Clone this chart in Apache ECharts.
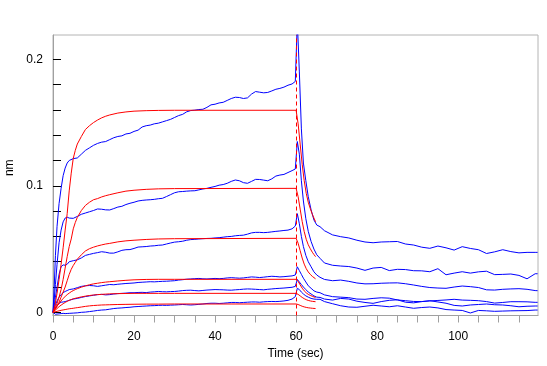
<!DOCTYPE html>
<html>
<head>
<meta charset="utf-8">
<script src="https://cdn.jsdelivr.net/npm/echarts@6/dist/echarts.min.js"></script>
<style>html,body{margin:0;padding:0;background:#fff;}#c{width:547px;height:366px;}</style>
</head>
<body>
<div id="c"></div>
<script>
// ---- time bases (sec) ----
const assocT = [0,0.3,0.6,1,1.5,2,2.5,3,3.5,4,5,6,7,8,9,10,11,12,13,14,15,16,17,18,19,20,21,22,23,24,25,26,27,28,29,30,31,32,33,34,35,36,37,38,39,40,41,42,43,44,45,46,47,48,49,50,51,52,53,54,55,56,57,58,59,59.8];
const dissT = [60.3,60.8,61.3,61.8,62.4,63,63.7,64.4,65.1,65.9,67,69,71,73,75,77,79,81,83,85,87,89,91,93,95,97,99,101,103,105,107,109,111,113,115,117,119,119.6];
const fitT = [0,0.5,1,1.5,2,2.5,3,3.5,4,4.5,5,5.5,6,7,8,9,10,11,12,13,14,16,18,20,23,26,30,60];
const fitDT = [60.5,61,61.5,62,62.5,63,63.5,64,64.4,64.8];

// ---- measured sensorgrams (nm) ----
const b1Assoc = [0,0.02,0.045,0.068,0.086,0.098,0.108,0.114,0.118,0.120,
  0.1215,0.122,0.125,0.128,0.130, 0.132,0.1335,0.1345,0.135,0.1365, 0.138,0.139,0.1395,0.141,0.1415,
  0.143,0.144,0.1465,0.1475,0.148, 0.149,0.1495,0.1505,0.1515,0.1525, 0.154,0.1555,0.1565,0.1585,0.1595,
  0.1598,0.1603,0.1605,0.162,0.164, 0.1645,0.1655,0.166,0.1675,0.169, 0.170,0.1698,0.169,0.1695,0.1725,
  0.1745,0.174,0.1735,0.1738,0.175, 0.1763,0.177,0.178,0.1795,0.1805, 0.1825];
const b2Assoc = [0,0.01,0.022,0.038,0.055,0.065,0.0715,0.0745,0.0752,0.0745,
  0.0743,0.0758,0.0775,0.0785,0.0795, 0.0805,0.0817,0.0815,0.081,0.0809, 0.082,0.0832,0.0838,0.0852,0.0862,
  0.087,0.088,0.0885,0.0888,0.089, 0.0893,0.0898,0.0901,0.0915,0.093, 0.0945,0.0953,0.0955,0.0958,0.096,
  0.0961,0.0968,0.0975,0.098,0.0988, 0.0995,0.1005,0.101,0.102,0.1035, 0.1046,0.104,0.1025,0.102,0.1035,
  0.1051,0.105,0.1045,0.104,0.1055, 0.1077,0.1085,0.109,0.1105,0.112, 0.1133];
const b3Assoc = [0,0.005,0.012,0.02,0.03,0.036,0.0375,0.0372,0.038,0.04,
  0.0408,0.0415,0.043,0.045,0.0458, 0.0466,0.0472,0.0479,0.0475,0.0468, 0.0468,0.0478,0.049,0.0495,0.0496,
  0.0505,0.0516,0.0518,0.052,0.0524, 0.0526,0.053,0.0532,0.054,0.0548, 0.0555,0.0558,0.0562,0.057,0.0575,
  0.0577,0.058,0.0582,0.0584,0.0585, 0.0588,0.059,0.0594,0.0598,0.06, 0.0605,0.0608,0.061,0.0618,0.0628,
  0.0632,0.0632,0.063,0.0632,0.0636, 0.064,0.0643,0.0647,0.065,0.066, 0.0682];
const b4Assoc = [0,0.003,0.006,0.009,0.012,0.014,0.0155,0.0165,0.0172,0.018,
  0.0185,0.0195,0.0205,0.021,0.0212, 0.021,0.0205,0.021,0.0215,0.022, 0.0218,0.0222,0.0225,0.0228,0.023,
  0.0232,0.0236,0.0238,0.024,0.0242, 0.0241,0.0243,0.0245,0.0246,0.0248, 0.025,0.0255,0.0258,0.0262,0.0264,
  0.0266,0.0268,0.0265,0.0264,0.0266, 0.0268,0.0266,0.0268,0.0272,0.0274, 0.0272,0.027,0.0272,0.0276,0.028,
  0.0278,0.0275,0.0278,0.0282,0.0285, 0.0283,0.028,0.0282,0.0285,0.0288, 0.0295];
const b5Assoc = [0,0.002,0.003,0.005,0.007,0.008,0.0082,0.0085,0.009,0.0095,
  0.0105,0.011,0.0118,0.0125,0.013, 0.0135,0.014,0.0142,0.0138,0.014, 0.0145,0.0148,0.015,0.0152,0.0155,
  0.0155,0.0157,0.0158,0.0156,0.016, 0.0162,0.0165,0.0163,0.0162,0.0164, 0.0165,0.0168,0.0172,0.0174,0.0175,
  0.0172,0.017,0.0173,0.0176,0.0178, 0.018,0.0179,0.0178,0.0176,0.0175, 0.0178,0.018,0.0183,0.0185,0.0184,
  0.0182,0.018,0.0178,0.0182,0.0185, 0.0188,0.019,0.0192,0.0195,0.0198, 0.0205];
const b6Assoc = [0,-0.001,-0.0015,-0.001,-0.0012,-0.001,-0.0008,-0.001,-0.0009,-0.0008,
  -0.0006,-0.0004,0,0.0002,0.0006, 0.001,0.0015,0.0018,0.002,0.0025, 0.003,0.0033,0.0035,0.0038,0.004,
  0.0044,0.0046,0.0048,0.005,0.0052, 0.0053,0.0055,0.0056,0.0055,0.0057, 0.0058,0.006,0.0062,0.006,0.0058,
  0.006,0.0063,0.0066,0.007,0.0072, 0.0072,0.007,0.0072,0.0075,0.0078, 0.0078,0.0076,0.0078,0.008,0.0082,
  0.0082,0.008,0.0083,0.0085,0.0086, 0.0085,0.0087,0.009,0.0095,0.0105, 0.0124];

const b1Diss = [0.23,0.19,0.145,0.118,0.104,0.0914,0.081,0.073,0.069,0.0677,
  0.0645,0.0612,0.0598,0.0588,0.057,0.0556,0.055,0.0556,0.0558,0.056,
  0.054,0.0532,0.0515,0.0506,0.0524,0.051,0.0492,0.0519,0.0505,0.0495,
  0.0465,0.0478,0.0495,0.048,0.047,0.0474,0.0474, 0.0474];
const b2Diss = [0.135,0.125,0.104,0.088,0.074,0.064,0.056,0.05,0.0455,0.0427,
  0.039,0.0372,0.0366,0.0362,0.035,0.0332,0.035,0.0355,0.033,0.034,
  0.0338,0.0329,0.0328,0.0321,0.0345,0.0297,0.031,0.0321,0.031,0.032,
  0.0325,0.0298,0.03,0.0303,0.0292,0.0265,0.0305, 0.0305];
const b3Diss = [0.078,0.07,0.06,0.052,0.045,0.04,0.036,0.032,0.0295,0.0277,
  0.026,0.025,0.0255,0.0245,0.0232,0.0225,0.0226,0.023,0.0232,0.0233,
  0.0226,0.0216,0.0205,0.0196,0.0192,0.019,0.02,0.0208,0.0203,0.0196,
  0.0178,0.0176,0.0182,0.0185,0.0187,0.0182,0.0172, 0.0171];
const b4Diss = [0.036,0.033,0.03,0.027,0.024,0.021,0.019,0.017,0.016,0.0155,
  0.0138,0.0124,0.012,0.0116,0.0105,0.0103,0.011,0.0115,0.0112,0.0098,
  0.0092,0.0086,0.0085,0.009,0.0094,0.0098,0.0103,0.0097,0.0095,0.0092,
  0.0085,0.0073,0.0078,0.0084,0.0084,0.0083,0.0079, 0.0079];
const b5Diss = [0.026,0.024,0.022,0.02,0.018,0.016,0.0145,0.013,0.012,0.0118,
  0.0105,0.0097,0.011,0.0105,0.0088,0.0078,0.0071,0.0085,0.0095,0.0099,
  0.008,0.0075,0.0085,0.0092,0.0082,0.0072,0.0055,0.005,0.0058,0.0062,
  0.0066,0.006,0.0058,0.0052,0.0044,0.0048,0.005, 0.005];
const b6Diss = [0.019,0.018,0.016,0.0145,0.013,0.012,0.011,0.0105,0.0103,0.0103,
  0.0085,0.0068,0.0052,0.0042,0.004,0.0048,0.0056,0.005,0.0044,0.0052,
  0.0042,0.0032,0.0038,0.0042,0.0035,0.0022,0.0018,0.0015,-0.0005,0.0015,
  0.0012,0.0008,0.001,0.0012,0.0013,0.0014,0.0018, 0.0018];

// ---- fitted curves (nm) ----
const r1Assoc = [0,0.006,0.015,0.026,0.038,0.051,0.065,0.078,0.096,0.11,0.1217,0.128,0.133,0.139,0.1445,0.1475,0.150,0.152,0.1537,0.155,0.156,0.1575,0.1584,0.159,0.1594,0.1596,0.1597,0.1597];
const r2Assoc = [0,0.003,0.007,0.012,0.018,0.026,0.035,0.044,0.052,0.058,0.066,0.071,0.075,0.0805,0.0845,0.087,0.089,0.0899,0.0912,0.0922,0.093,0.0945,0.0958,0.0965,0.0972,0.0976,0.0978,0.098];
const r3Assoc = [0,0.002,0.005,0.008,0.012,0.016,0.02,0.025,0.03,0.034,0.037,0.0395,0.042,0.0455,0.0485,0.0503,0.0515,0.0525,0.0533,0.054,0.0545,0.0557,0.0565,0.057,0.0576,0.058,0.0582,0.0585];
const r4Assoc = [0,0.003,0.005,0.007,0.009,0.011,0.0125,0.014,0.0152,0.0163,0.0172,0.018,0.0187,0.0199,0.0209,0.0218,0.0225,0.023,0.0235,0.0239,0.0242,0.0248,0.0253,0.0257,0.026,0.0261,0.0261,0.0261];
const r5Assoc = [0,0.0015,0.003,0.0045,0.0057,0.0068,0.0078,0.0087,0.0095,0.0101,0.0107,0.0111,0.0115,0.0122,0.0128,0.0133,0.0137,0.014,0.0142,0.0144,0.0146,0.0148,0.0149,0.015,0.015,0.015,0.015,0.015];
const r6Assoc = [0,0.0004,0.0008,0.0012,0.0016,0.0019,0.0022,0.0025,0.0028,0.003,0.0032,0.0035,0.0037,0.0042,0.0047,0.0051,0.0054,0.0056,0.0058,0.0059,0.006,0.0062,0.0063,0.0064,0.0065,0.0065,0.0066,0.0066];
const r1Diss = [0.149,0.133,0.117,0.104,0.094,0.087,0.082,0.0775,0.0745,0.0716];
const r2Diss = [0.0914,0.0816,0.0718,0.0638,0.0577,0.0534,0.0503,0.0475,0.0457,0.044];
const r3Diss = [0.0546,0.0487,0.0429,0.0381,0.0345,0.0319,0.03,0.0284,0.0273,0.0265];
const r4Diss = [0.0244,0.0217,0.0191,0.017,0.0154,0.0142,0.0134,0.0127,0.0122,0.0117];
const r5Diss = [0.0142,0.013,0.0118,0.0108,0.01,0.0094,0.009,0.0087,0.0085,0.0084];
const r6Diss = [0.0062,0.0055,0.0048,0.0043,0.0039,0.0036,0.0034,0.0032,0.0031,0.003];

// ---- axis ticks ----
const xTicks = [0,5,10,15,20,25,30,35,40,45,50,55,60,65,70,75,80,85,90,95,100,105,110,115];
const xLabels = [0,20,40,60,80,100];
const yTicks = [0,0.02,0.04,0.06,0.08,0.1,0.12,0.14,0.16,0.18,0.2];
const yLabels = [0,0.1,0.2];
const stepLine = 60;

function pairs(ts, vs) { return ts.map((t, i) => [t, vs[i]]); }

const blueSets = [[b1Assoc,b1Diss],[b2Assoc,b2Diss],[b3Assoc,b3Diss],[b4Assoc,b4Diss],[b5Assoc,b5Diss],[b6Assoc,b6Diss]];
const redSets = [[r1Assoc,r1Diss],[r2Assoc,r2Diss],[r3Assoc,r3Diss],[r4Assoc,r4Diss],[r5Assoc,r5Diss],[r6Assoc,r6Diss]];

const series = [];
blueSets.forEach(([a, d]) => {
  series.push({
    type: 'line', showSymbol: false, symbol: 'none', clip: true, silent: true,
    lineStyle: { color: '#0000ff', width: 1 },
    data: pairs(assocT, a).concat(pairs(dissT, d)),
    z: 2
  });
});
redSets.forEach(([a, d], i) => {
  const s = {
    type: 'line', showSymbol: false, symbol: 'none', clip: true, silent: true,
    lineStyle: { color: '#ff0000', width: 1 },
    data: pairs(fitT, a).concat(pairs(fitDT, d)),
    z: 3
  };
  if (i === 0) {
    s.markLine = {
      silent: true, symbol: ['none', 'none'], label: { show: false },
      lineStyle: { color: '#ff0000', type: [4, 3], width: 1 },
      data: [{ xAxis: stepLine }]
    };
  }
  series.push(s);
});

const font = 'Liberation Sans, Arial, sans-serif';
const chart = echarts.init(document.getElementById('c'), null, { renderer: 'canvas' });
chart.setOption({
  animation: false,
  backgroundColor: '#ffffff',
  grid: { left: 53, right: 9, top: 35, bottom: 50.5, containLabel: false, outerBoundsMode: 'none',
    show: true, borderColor: '#b4b4b4', borderWidth: 1, backgroundColor: 'transparent' },
  xAxis: {
    type: 'value', min: 0, max: 119.7,
    name: 'Time (sec)', nameLocation: 'middle', nameGap: 30,
    nameTextStyle: { fontFamily: font, fontSize: 12, color: '#000' },
    axisLine: { show: true, onZero: false, lineStyle: { color: '#a0a0a0' } },
    axisTick: { show: true, inside: false, length: 7, customValues: xTicks, lineStyle: { color: '#a0a0a0' } },
    axisLabel: { customValues: xLabels, margin: 15, fontFamily: font, fontSize: 12, color: '#000' },
    splitLine: { show: false }
  },
  yAxis: {
    type: 'value', min: -0.0025, max: 0.2192,
    name: 'nm', nameLocation: 'middle', nameGap: 35, nameRotate: 90,
    nameTextStyle: { fontFamily: font, fontSize: 12, color: '#000', padding: [0, 0, 0, 15] },
    axisLine: { show: true, onZero: false, lineStyle: { color: '#a0a0a0' } },
    axisTick: { show: true, inside: true, length: 8, customValues: yTicks, lineStyle: { color: '#000' } },
    axisLabel: { customValues: yLabels, margin: 10, fontFamily: font, fontSize: 12, color: '#000',
      formatter: v => (v === 0 ? '0' : String(Math.round(v * 10) / 10)) },
    splitLine: { show: false }
  },
  series: series
});
</script>
</body>
</html>
